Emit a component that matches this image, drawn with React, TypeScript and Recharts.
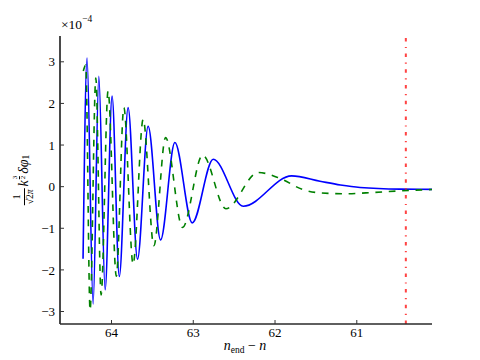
import React from 'react';
import { LineChart, Line, XAxis, YAxis, ReferenceLine } from 'recharts';

// Blue solid series (x in n_end - n, y in units of 1e-4)
const blueX = [64.348, 64.299, 64.225, 64.155, 64.078, 63.993, 63.905, 63.797, 63.682, 63.552, 63.4, 63.225, 63.013, 62.756, 62.389, 61.797, 61.45, 61.2, 60.96, 60.47, 60.08];
const blueY = [-1.73, 3.09, -2.82, 2.65, -2.48, 2.18, -2.16, 1.9, -1.74, 1.45, -1.28, 1.06, -0.87, 0.66, -0.47, 0.26, 0.13, 0.04, -0.02, -0.06, -0.065];

// Green dashed series
const greenX = [64.345, 64.315, 64.262, 64.192, 64.127, 64.042, 63.941, 63.849, 63.736, 63.613, 63.482, 63.339, 63.131, 62.886, 62.601, 62.206, 61.94, 61.66, 61.45, 61.14, 60.8, 60.47, 60.08];
const greenY = [2.78, 2.92, -2.97, 2.61, -2.6, 2.3, -2.15, 1.9, -1.86, 1.62, -1.42, 1.18, -0.98, 0.76, -0.53, 0.34, 0.2, -0.07, -0.15, -0.17, -0.14, -0.1, -0.07];

const xTicks = [61, 62, 63, 64];
const yTicks = [-3, -2, -1, 0, 1, 2, 3];
const xDomain = [60.08, 64.63];
const yDomain = [-3.3, 3.62];
const markerX = 60.4;

const blueData = blueX.map((x, i) => ({ x, y: blueY[i] }));
const greenData = greenX.map((x, i) => ({ x, y: greenY[i] }));

const FONT = "'Liberation Serif', serif";
const AXIS = { stroke: '#2a2a2a', strokeWidth: 1.7 };
const TICKLINE = { stroke: '#333', strokeWidth: 1 };
const fmt = (v: number) => (v < 0 ? '\u2212' + Math.abs(v) : String(v));
const blank = () => '';

export default function App() {
  return (
    <div style={{ position: 'absolute', left: 0, top: 0, width: 480, height: 360, background: '#fff', fontFamily: FONT }}>
      <LineChart width={480} height={360} margin={{ top: 36, right: 48, bottom: 0, left: 0 }}>
        <XAxis
          xAxisId="b"
          dataKey="x"
          type="number"
          domain={xDomain}
          reversed
          allowDataOverflow
          ticks={xTicks}
          height={36}
          orientation="bottom"
          tickSize={-4}
          tickMargin={8}
          axisLine={AXIS}
          tickLine={TICKLINE}
          tick={{ fill: '#000', fontSize: 13, fontFamily: FONT }}
        />
        <XAxis
          xAxisId="t"
          type="number"
          domain={xDomain}
          reversed
          allowDataOverflow
          ticks={xTicks}
          height={0}
          orientation="top"
          tickSize={-4}
          tickFormatter={blank}
          axisLine={AXIS}
          tickLine={TICKLINE}
        />
        <YAxis
          yAxisId="l"
          type="number"
          domain={yDomain}
          allowDataOverflow
          ticks={yTicks}
          width={60}
          tickSize={-4}
          tickMargin={9}
          tickFormatter={fmt}
          axisLine={AXIS}
          tickLine={TICKLINE}
          tick={{ fill: '#000', fontSize: 13, fontFamily: FONT }}
        />
        <YAxis
          yAxisId="r"
          orientation="right"
          type="number"
          domain={yDomain}
          allowDataOverflow
          ticks={yTicks}
          width={0}
          tickSize={-4}
          tickFormatter={blank}
          axisLine={AXIS}
          tickLine={TICKLINE}
        />
        <Line
          xAxisId="b"
          yAxisId="l"
          data={blueData}
          dataKey="y"
          type="monotone"
          stroke="#0000ff"
          strokeWidth={1.6}
          dot={false}
          isAnimationActive={false}
        />
        <Line
          xAxisId="b"
          yAxisId="l"
          data={greenData}
          dataKey="y"
          type="monotone"
          stroke="#008000"
          strokeWidth={1.6}
          strokeDasharray="6.7 6.7"
          dot={false}
          isAnimationActive={false}
        />
        <ReferenceLine
          xAxisId="b"
          yAxisId="l"
          x={markerX}
          stroke="#ff2222"
          strokeOpacity={0.85}
          strokeWidth={2}
          strokeDasharray="3.5 5.5 1.2 5.5"
        />
      </LineChart>

      {/* multiplier */}
      <div style={{ position: 'absolute', left: 61, top: 18, fontSize: 13.5, whiteSpace: 'nowrap', lineHeight: 1 }}>
        ×10<sup style={{ fontSize: 9.5, verticalAlign: 'top', position: 'relative', top: -3 }}>−4</sup>
      </div>

      {/* x label */}
      <div style={{ position: 'absolute', left: 245, top: 339, transform: 'translateX(-50%)', fontSize: 14, whiteSpace: 'nowrap', lineHeight: 1 }}>
        <i>n</i>
        <sub style={{ fontSize: 9.5, verticalAlign: 'baseline', position: 'relative', top: 3 }}>end</sub>
        <span> − </span>
        <i>n</i>
      </div>

      {/* y label */}
      <div
        style={{
          position: 'absolute',
          left: 24,
          top: 180,
          transform: 'translate(-50%, -50%) rotate(-90deg)',
          whiteSpace: 'nowrap',
          fontSize: 14,
          display: 'flex',
          alignItems: 'center',
          lineHeight: 1,
        }}
      >
        <span style={{ display: 'inline-flex', flexDirection: 'column', alignItems: 'center', fontSize: 9.5, marginRight: 2 }}>
          <span style={{ paddingBottom: 1 }}>1</span>
          <span style={{ borderTop: '0.8px solid #000', padding: '1px 1px 0 1px' }}>
            √2<i>π</i>
          </span>
        </span>
        <i>k</i>
        <span style={{ display: 'inline-flex', flexDirection: 'column', alignItems: 'center', fontSize: 7, position: 'relative', top: -5, marginLeft: 1 }}>
          <span>3</span>
          <span style={{ borderTop: '0.6px solid #000' }}>2</span>
        </span>
        <i style={{ marginLeft: 2 }}>δφ</i>
        <sub style={{ fontSize: 9.5, verticalAlign: 'baseline', position: 'relative', top: 3 }}>1</sub>
      </div>
    </div>
  );
}
